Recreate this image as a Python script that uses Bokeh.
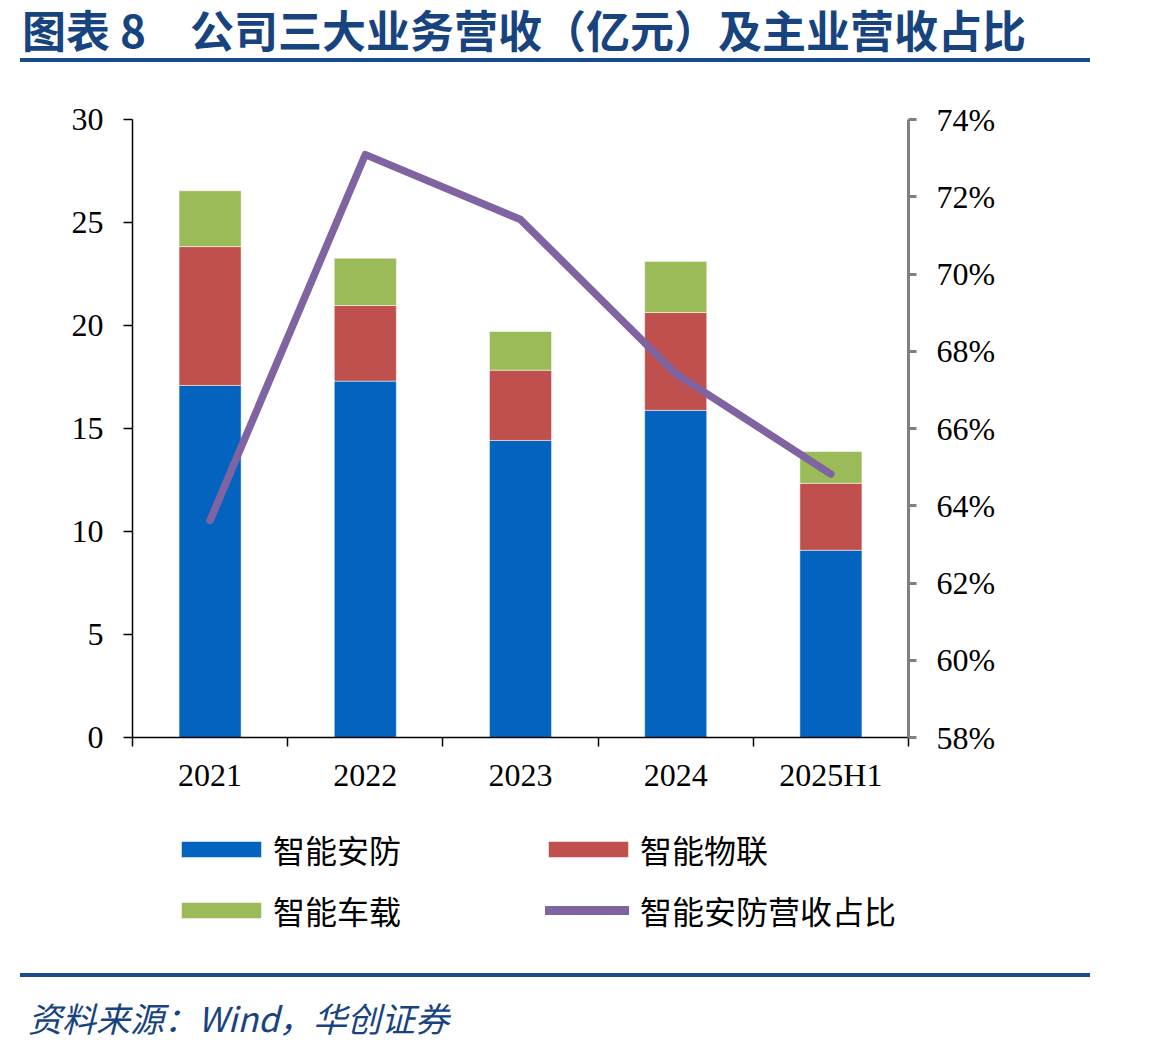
from bokeh.plotting import figure
from bokeh.models import (Range1d, LinearAxis, FixedTicker, PrintfTickFormatter,
                          Legend, LegendItem, ColumnDataSource, Div)
from bokeh.layouts import column
from bokeh.embed import file_html
from bokeh.resources import INLINE

# ---------------- data ----------------
categories = ["2021", "2022", "2023", "2024", "2025H1"]
security = [17.09, 17.30, 14.42, 15.88, 9.09]      # 智能安防 (亿元)
iot = [6.74, 3.67, 3.41, 4.75, 3.25]               # 智能物联 (亿元)
auto = [2.71, 2.30, 1.88, 2.48, 1.54]              # 智能车载 (亿元)
security_share = [63.62, 73.09, 71.41, 67.42, 64.82]  # 智能安防营收占比 (%)
left_ticks = [0, 5, 10, 15, 20, 25, 30]
right_ticks = [58, 60, 62, 64, 66, 68, 70, 72, 74]

series_names = ["智能安防", "智能物联", "智能车载"]
line_name = "智能安防营收占比"
title_text = "图表 8　公司三大业务营收（亿元）及主业营收占比"
source_text = "资料来源：Wind，华创证券"

# ---------------- styles ----------------
C_BLUE = "#0563C0"
C_RED = "#C0504D"
C_GREEN = "#9BBB59"
C_PURPLE = "#8064A2"
C_NAVY = "#17437F"
C_RULE = "#1A4C8B"
CJK = "Noto Sans CJK SC"
NUM = "Liberation Serif"

W, H = 1149, 1051
TOP_H = 70                                   # title block height
FL, FT, FW, FH = 132, 119 - TOP_H, 776, 618  # frame placement inside main figure
BOTTOM_B = 70
MAIN_H = FT + FH + BOTTOM_B
LEG_TOP = TOP_H + MAIN_H                     # page y where the legend block starts
LEG_BOTTOM = 966
LEG_H = LEG_BOTTOM - LEG_TOP
SRC_H = H - LEG_BOTTOM
n = len(categories)

xs = [i + 0.5 for i in range(n)]
src = ColumnDataSource(dict(x=xs, sec=security, iot=iot, auto=auto,
                            share=security_share))

# ================= main chart =================
p = figure(frame_width=FW, frame_height=FH,
           x_range=Range1d(0, n), y_range=Range1d(0, 30),
           output_backend="svg", toolbar_location=None,
           min_border_left=FL, min_border_right=W - FL - FW,
           min_border_top=FT, min_border_bottom=BOTTOM_B,
           outline_line_color=None, background_fill_color="white",
           border_fill_color="white", margin=0)
p.xgrid.visible = False
p.ygrid.visible = False

bar_colors = [C_BLUE, C_RED, C_GREEN]
bar_style = dict(line_color="white", line_width=1, line_alpha=0.5)
rs = p.vbar_stack(["sec", "iot", "auto"], x="x", width=0.40, source=src,
                  color=bar_colors, **bar_style)

line_style = dict(line_color=C_PURPLE, line_cap="round", line_join="round")
p.extra_y_ranges = {"pct": Range1d(58, 74)}
rl = p.line("x", "share", source=src, y_range_name="pct", line_width=7.5,
            **line_style)

xa = p.xaxis[0]
xa.ticker = FixedTicker(ticks=xs, minor_ticks=[float(i) for i in range(n + 1)])
xa.major_label_overrides = {x: c for x, c in zip(xs, categories)}
xa.major_tick_out = 0
xa.major_tick_in = 0
xa.minor_tick_out = 9
xa.minor_tick_in = 0
xa.minor_tick_line_color = "black"
xa.minor_tick_line_width = 1.5
xa.axis_line_color = "black"
xa.axis_line_width = 1.5
xa.major_label_text_font = NUM
xa.major_label_text_font_size = "32px"
xa.major_label_text_color = "black"
xa.major_label_standoff = 10

ya = p.yaxis[0]
ya.ticker = FixedTicker(ticks=left_ticks)
ya.major_tick_out = 9
ya.major_tick_in = 0
ya.minor_tick_out = 0
ya.minor_tick_in = 0
ya.major_tick_line_color = "black"
ya.major_tick_line_width = 1.5
ya.axis_line_color = "black"
ya.axis_line_width = 1.5
ya.major_label_text_font = NUM
ya.major_label_text_font_size = "32px"
ya.major_label_text_color = "black"
ya.major_label_standoff = 20

ra = LinearAxis(y_range_name="pct", ticker=FixedTicker(ticks=right_ticks),
                formatter=PrintfTickFormatter(format="%d%%"))
ra.major_tick_out = 8
ra.major_tick_in = 0
ra.minor_tick_out = 0
ra.minor_tick_in = 0
ra.major_tick_line_color = "#808080"
ra.major_tick_line_width = 3
ra.axis_line_color = "#808080"
ra.axis_line_width = 3
ra.major_label_text_font = NUM
ra.major_label_text_font_size = "32px"
ra.major_label_text_color = "black"
ra.major_label_standoff = 20
p.add_layout(ra, "right")

# ================= legend block =================
# its frame is aligned with the chart frame (x 132..908); data coords = page px
lf = figure(width=W, height=LEG_H, x_range=Range1d(FL, FL + FW),
            y_range=Range1d(LEG_BOTTOM, LEG_TOP), x_axis_type=None,
            y_axis_type=None, output_backend="svg", toolbar_location=None,
            min_border=0, outline_line_color=None, margin=0,
            background_fill_color="white", border_fill_color="white")
lf.xgrid.visible = False
lf.ygrid.visible = False

# hidden twins of the chart's renderers, used only for the legend swatches
sw = []
for col, c in zip(["sec", "iot", "auto"], bar_colors):
    r = lf.vbar(x="x", top=col, width=0.40, source=src, color=c, **bar_style)
    r.visible = False
    sw.append(r)
sl = lf.line("x", "share", source=src, line_width=9, **line_style)
sl.visible = False


def add_legend(label, renderer, glyph_left, row_center, gw, standoff):
    item_h = 38
    vx = glyph_left - FL
    vy = LEG_H - (row_center - LEG_TOP) - item_h / 2
    lg = Legend(items=[LegendItem(label=label, renderers=[renderer])],
                location=(vx, vy), glyph_width=gw, glyph_height=20,
                label_height=20, label_standoff=standoff, padding=0,
                margin=0, spacing=0, border_line_alpha=0,
                background_fill_alpha=0, inactive_fill_alpha=0,
                label_text_font=CJK, label_text_font_size="32px",
                label_text_color="black")
    lf.add_layout(lg, "center")


add_legend(series_names[0], sw[0], 171, 853, 100, 2)
add_legend(series_names[1], sw[1], 538, 853, 100, 2)
add_legend(series_names[2], sw[2], 171, 914, 100, 2)
add_legend(line_name, sl, 545, 914, 84, 11)

# ================= title / source blocks =================
title_div = Div(width=W, height=TOP_H, margin=0, text=(
    f'<div style="position:relative;width:{W}px;height:{TOP_H}px;">'
    f'<div style="position:absolute;left:22px;top:4px;width:1120px;height:50px;'
    f'line-height:50px;white-space:nowrap;font-family:\'{CJK}\';font-size:44px;'
    f'font-weight:bold;color:{C_NAVY};">{title_text}</div>'
    f'<div style="position:absolute;left:20px;top:58px;width:1070px;height:4px;'
    f'background:{C_RULE};"></div></div>'))

source_div = Div(width=W, height=SRC_H, margin=0, text=(
    f'<div style="position:relative;width:{W}px;height:{SRC_H}px;">'
    f'<div style="position:absolute;left:20px;top:{973 - LEG_BOTTOM}px;width:1070px;'
    f'height:4px;background:{C_RULE};"></div>'
    f'<div style="position:absolute;left:28px;top:{1018 - 22 - LEG_BOTTOM}px;'
    f'width:800px;height:44px;line-height:44px;white-space:nowrap;'
    f'font-family:\'{CJK}\';font-size:34px;font-style:italic;'
    f'color:{C_NAVY};">{source_text}</div></div>'))

layout = column(title_div, p, lf, source_div, spacing=0, margin=0)

open("out.html", "w").write(file_html(layout, INLINE))
